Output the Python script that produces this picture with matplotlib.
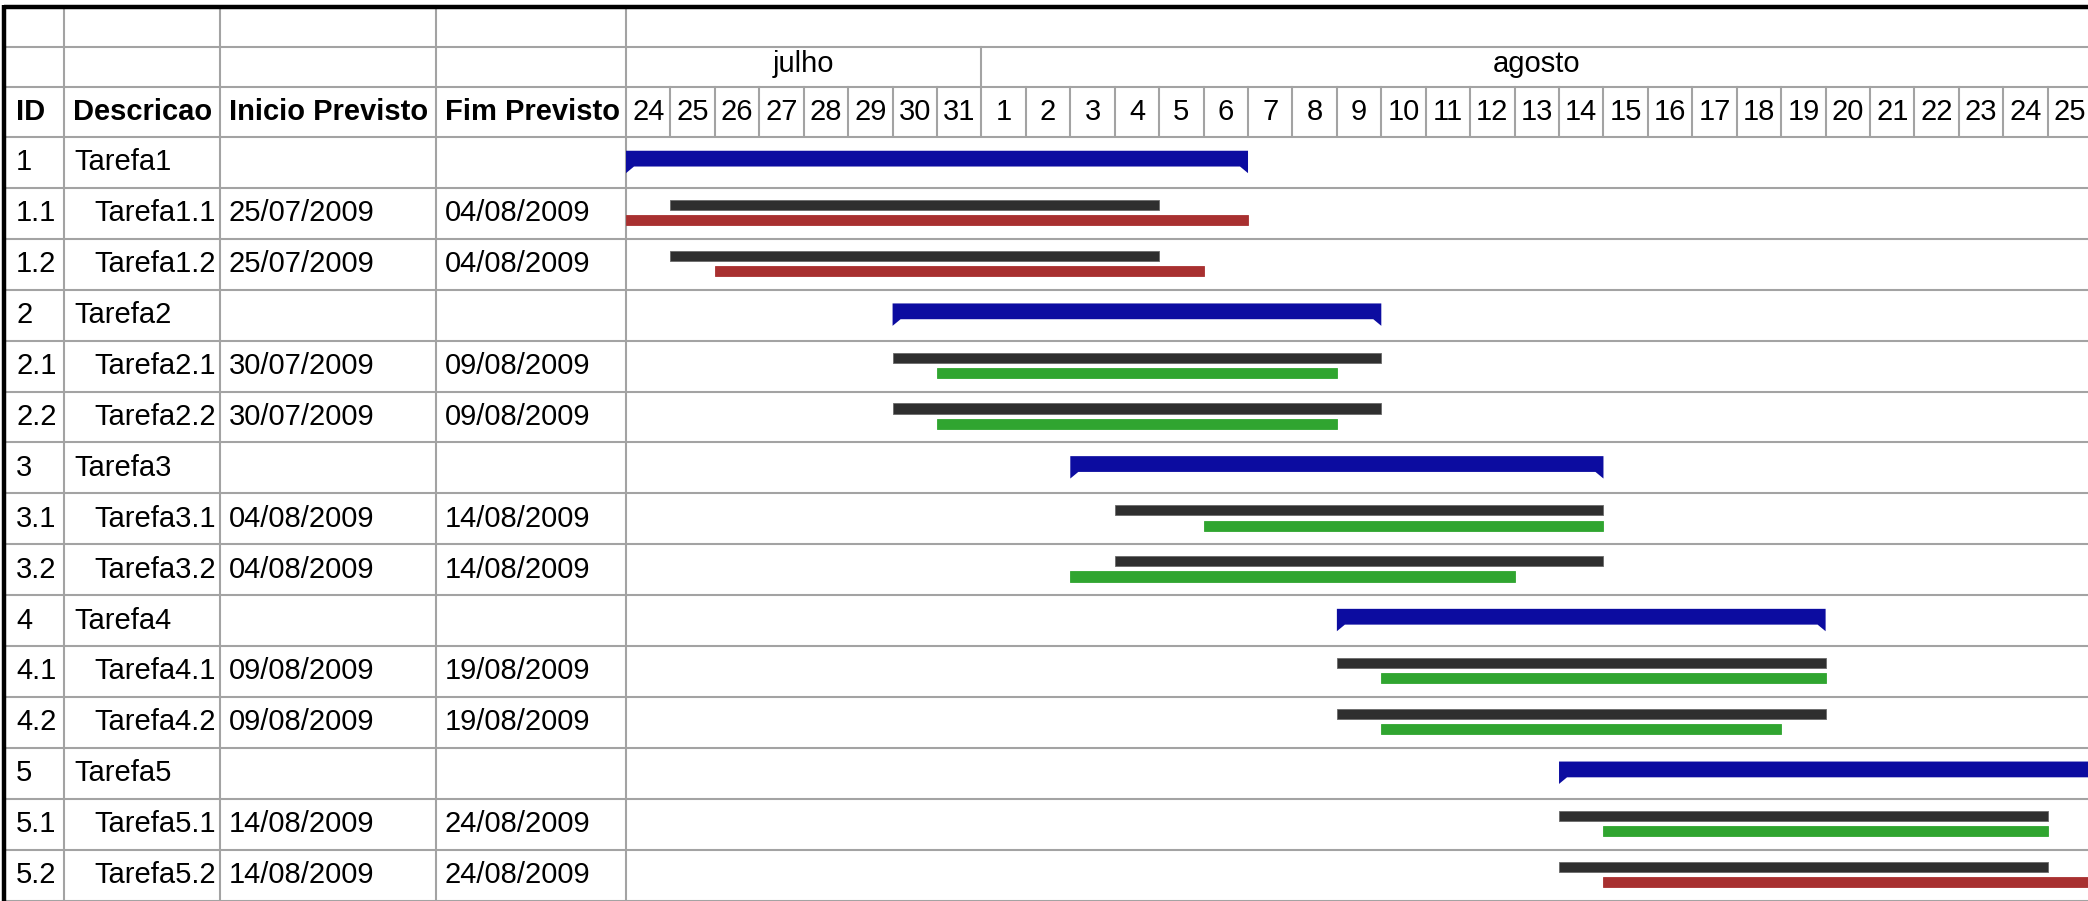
import matplotlib
matplotlib.use("Agg")
from matplotlib import pyplot as plt
import matplotlib.dates as mdates
from datetime import datetime, timedelta

plt.rcParams['font.family'] = ['Liberation Sans', 'DejaVu Sans']

# #################################################################
# Data
# #################################################################

task_ids = ['1', '1.1', '1.2', '2', '2.1', '2.2', '3', '3.1', '3.2',
            '4', '4.1', '4.2', '5', '5.1', '5.2']
task_names = ['Tarefa1', 'Tarefa1.1', 'Tarefa1.2', 'Tarefa2', 'Tarefa2.1',
              'Tarefa2.2', 'Tarefa3', 'Tarefa3.1', 'Tarefa3.2', 'Tarefa4',
              'Tarefa4.1', 'Tarefa4.2', 'Tarefa5', 'Tarefa5.1', 'Tarefa5.2']
plan_start = [None, '25/07/2009', '25/07/2009',
              None, '30/07/2009', '30/07/2009',
              None, '04/08/2009', '04/08/2009',
              None, '09/08/2009', '09/08/2009',
              None, '14/08/2009', '14/08/2009']
plan_end = [None, '04/08/2009', '04/08/2009',
            None, '09/08/2009', '09/08/2009',
            None, '14/08/2009', '14/08/2009',
            None, '19/08/2009', '19/08/2009',
            None, '24/08/2009', '24/08/2009']
real_start = [None, '24/07/2009', '26/07/2009',
              None, '31/07/2009', '31/07/2009',
              None, '06/08/2009', '03/08/2009',
              None, '10/08/2009', '10/08/2009',
              None, '15/08/2009', '15/08/2009']
real_end = [None, '06/08/2009', '05/08/2009',
            None, '08/08/2009', '08/08/2009',
            None, '14/08/2009', '12/08/2009',
            None, '19/08/2009', '18/08/2009',
            None, '24/08/2009', '26/08/2009']
month_names = {7: 'julho', 8: 'agosto'}
view_start = '24/07/2009'
headers = ['ID', 'Descricao', 'Inicio Previsto', 'Fim Previsto']

# #################################################################
# Layout / style
# #################################################################

W, H = 2088, 901
col_x = [4, 64, 220, 436, 626]
top_y = [7, 47, 87, 137]
row_h = 50.9
day_w = 44.43

c_grid = '#a3a3a3'
c_summary = '#0c0ca0'
c_plan = '#2f2f2f'
c_late = '#a83030'
c_ok = '#30a530'
fs = 21


def todate(s):
    return datetime.strptime(s, '%d/%m/%Y')


def dnum(s):
    return mdates.date2num(todate(s))


fig = plt.figure(figsize=(W / 100, H / 100), dpi=100)

# frame axes in pixel units (table part)
fr = fig.add_axes([0, 0, 1, 1], zorder=0)
fr.set_xlim(0, W)
fr.set_ylim(H, 0)
fr.axis('off')

x0 = col_x[-1]
d0 = dnum(view_start)
ndays = (W - x0) / day_w

ax = fig.add_axes([x0 / W, 0, (W - x0) / W, (H - top_y[-1]) / H], zorder=2)
ax.set_xlim(d0, d0 + ndays)
ax.set_ylim((H - top_y[-1]) / row_h, 0)
ax.axis('off')
ax.patch.set_visible(False)

hx = fig.add_axes([x0 / W, (H - top_y[-1]) / H, (W - x0) / W, top_y[-1] / H],
                  sharex=ax, zorder=1)
hx.set_ylim(top_y[-1], 0)
hx.axis('off')
hx.patch.set_visible(False)

# table grid ······················································
n = len(task_ids)
for y in top_y[1:]:
    fr.plot([col_x[0], W], [y, y], color=c_grid, lw=1.5)
for i in range(1, n + 1):
    y = top_y[-1] + i * row_h
    fr.plot([col_x[0], W], [y, y], color=c_grid, lw=1.5)
for x in col_x[1:]:
    fr.plot([x, x], [top_y[0], H], color=c_grid, lw=1.5)
fr.plot([col_x[0], W], [top_y[0], top_y[0]], color='black', lw=3.2,
        solid_capstyle='butt')
fr.plot([col_x[0], col_x[0]], [top_y[0] - 2, H], color='black', lw=3.2,
        solid_capstyle='butt')

# header texts
yh = (top_y[2] + top_y[3]) / 2
for k, h in enumerate(headers):
    fr.text(col_x[k] + (12 if k == 0 else 9), yh, h, fontsize=fs,
            fontweight='bold', va='center', ha='left')

# task rows
for i in range(n):
    yc = top_y[-1] + (i + 0.5) * row_h
    fr.text(col_x[0] + 12, yc, task_ids[i], fontsize=fs, va='center')
    if '.' in task_ids[i]:
        fr.text(col_x[2] - 4, yc, task_names[i], fontsize=fs, va='center',
                ha='right')
    else:
        fr.text(col_x[1] + 10, yc, task_names[i], fontsize=fs, va='center')
    if plan_start[i]:
        fr.text(col_x[2] + 9, yc, plan_start[i], fontsize=fs, va='center')
        fr.text(col_x[3] + 9, yc, plan_end[i], fontsize=fs, va='center')

# timeline header ·················································
days = [todate(view_start) + timedelta(days=k) for k in range(int(ndays) + 1)]
for k, d in enumerate(days):
    xd = mdates.date2num(d)
    hx.text(xd + 0.5, yh, str(d.day), fontsize=fs, ha='center', va='center',
            clip_on=False)
    if k > 0:
        top = top_y[1] if d.day == 1 else top_y[2]
        hx.plot([xd, xd], [top, top_y[3]], color=c_grid, lw=1.5)

ym = (top_y[1] + top_y[2]) / 2 - 3
for m in sorted(set(d.month for d in days)):
    md = [mdates.date2num(d) for d in days if d.month == m]
    xa = max(min(md), d0)
    xb = min(max(md) + 1, d0 + ndays + 0.1)
    hx.text((xa + xb) / 2, ym, month_names[m], fontsize=fs, ha='center',
            va='center')

# bars ····························································
for i in range(n):
    if plan_start[i]:
        ps, pe = dnum(plan_start[i]), dnum(plan_end[i]) + 1
        rs, re_ = dnum(real_start[i]), dnum(real_end[i]) + 1
        ax.barh(i + 0.335, pe - ps, left=ps, height=0.2, color=c_plan,
                edgecolor='#6a6a6a', linewidth=0.6)
        c = c_late if re_ > pe else c_ok
        ax.barh(i + 0.635, re_ - rs, left=rs, height=0.2, color=c,
                edgecolor=c, linewidth=0.6)
    else:
        kids = [j for j in range(n) if task_ids[j].startswith(task_ids[i] + '.')]
        s = min(min(dnum(plan_start[j]), dnum(real_start[j])) for j in kids)
        e = max(max(dnum(plan_end[j]), dnum(real_end[j])) for j in kids) + 1
        top, bot, tip, tw = i + 0.27, i + 0.58, i + 0.71, 0.18
        ax.fill([s, e, e, e - tw, s + tw, s],
                [top, top, tip, bot, bot, tip], color=c_summary, lw=0)

fig.savefig('out.png', dpi=100)
plt.close()
